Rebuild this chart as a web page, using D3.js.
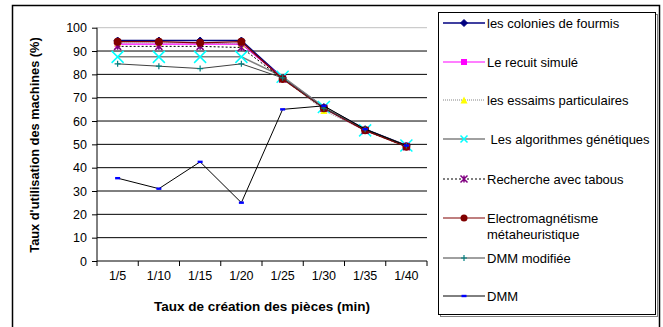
<!DOCTYPE html>
<html>
<head>
<meta charset="utf-8">
<script src="https://cdn.jsdelivr.net/npm/d3@7"></script>
<style>
  html, body { margin: 0; padding: 0; background: #fff; }
  svg { display: block; font-family: Arial, "Liberation Sans", sans-serif; }
</style>
</head>
<body>
<svg id="chart" width="663" height="327"></svg>
<script>
// Category labels (x axis)
const categories = ["1/5", "1/10", "1/15", "1/20", "1/25", "1/30", "1/35", "1/40"];
const yTicks = [0, 10, 20, 30, 40, 50, 60, 70, 80, 90, 100];

// Machine utilisation rate (%) per method
const colonies   = [94.5, 94.5, 94.5, 94.5, 78.5, 66.0, 56.5, 49.5];
const recuit     = [93.0, 93.0, 93.0, 93.0, 78.5, 65.5, 56.0, 49.5];
const essaims    = [93.5, 93.5, 93.5, 93.0, 78.5, 64.5, 56.0, 49.5];
const genetiques = [87.5, 87.5, 87.5, 87.5, 79.0, 66.0, 56.0, 49.5];
const tabous     = [92.0, 92.0, 92.0, 91.5, 78.0, 65.5, 56.0, 49.0];
const electro    = [94.0, 94.0, 93.5, 94.0, 78.0, 65.5, 56.0, 49.0];
const dmmModif   = [84.5, 83.5, 82.5, 84.5, 78.5, 65.5, 56.5, 49.5];
const dmm        = [35.5, 31.0, 42.5, 25.0, 65.0, 66.5, 56.5, 49.5];

const seriesNames = [
  "les colonies de fourmis",
  "Le recuit simulé",
  "les essaims particulaires",
  " Les algorithmes génétiques",
  "Recherche avec tabous",
  "Electromagnétisme\nmétaheuristique",
  "DMM modifiée",
  "DMM"
];

// visual style per series
const styles = [
  { values: colonies,   line: "#000080", width: 1.5, dash: null,  marker: "diamond",  mfill: "#000080", msize: 7 },
  { values: recuit,     line: "#FF00FF", width: 1.2, dash: null,  marker: "square",   mfill: "#FF00FF", msize: 6 },
  { values: essaims,    line: "#666666", width: 0.8, dash: "1,1", marker: "triangle", mfill: "#FFFF00", msize: 7 },
  { values: genetiques, line: "#808080", width: 1.5, dash: null,  marker: "x",        mfill: "#00FFFF", msize: 12 },
  { values: tabous,     line: "#000000", width: 1,   dash: "2,2", marker: "star",     mfill: "#800080", msize: 7 },
  { values: electro,    line: "#800000", width: 1.2, dash: null,  marker: "circle",   mfill: "#800000", msize: 8 },
  { values: dmmModif,   line: "#404040", width: 1,   dash: null,  marker: "plus",     mfill: "#008080", msize: 6 },
  { values: dmm,        line: "#000000", width: 1,   dash: null,  marker: "dash",     mfill: "#0000FF", msize: 5 }
];

const svg = d3.select("#chart");

// outer frame
svg.append("rect")
  .attr("x", 12.5).attr("y", 5.5).attr("width", 647).attr("height", 330)
  .attr("fill", "none").attr("stroke", "#000").attr("stroke-width", 1.5);

const plot = { left: 97, right: 427, top: 27.7, bottom: 261 };

const x = d3.scaleBand().domain(categories).range([plot.left, plot.right]);
const y = d3.scaleLinear().domain([0, 100]).range([plot.bottom, plot.top]);

// horizontal gridlines
svg.append("g").selectAll("line").data(yTicks.filter(d => d > 0)).join("line")
  .attr("x1", plot.left).attr("x2", plot.right)
  .attr("y1", d => y(d)).attr("y2", d => y(d))
  .attr("stroke", d => d === 100 ? "#c0c0c0" : "#000").attr("stroke-width", 1);

// y axis
const yAxis = d3.axisLeft(y).tickValues(yTicks).tickSize(5).tickPadding(5);
const gy = svg.append("g").attr("transform", `translate(${plot.left},0)`).call(yAxis);
gy.select(".domain").attr("stroke", "#000").attr("d", `M0,${plot.top}V${plot.bottom}`);
gy.selectAll(".tick line").attr("stroke", "#000");
gy.selectAll(".tick text").attr("font-size", 12.5).attr("font-family", "Arial, 'Liberation Sans', sans-serif").attr("fill", "#000");

// x axis with ticks at category boundaries
const gx = svg.append("g").attr("transform", `translate(0,${plot.bottom})`);
gx.append("line").attr("x1", plot.left).attr("x2", plot.right).attr("y1", 0).attr("y2", 0).attr("stroke", "#000");
const boundaries = categories.map(c => x(c)).concat([plot.right]);
gx.selectAll(".bt").data(boundaries).join("line")
  .attr("x1", d => d).attr("x2", d => d).attr("y1", 0).attr("y2", 5).attr("stroke", "#000");
gx.selectAll(".lbl").data(categories).join("text")
  .attr("x", d => x(d) + x.bandwidth() / 2).attr("y", 19)
  .attr("text-anchor", "middle").attr("font-size", 12.5).text(d => d);

// axis titles
svg.append("text")
  .attr("x", 262).attr("y", 311).attr("text-anchor", "middle")
  .attr("font-size", 13.5).attr("font-weight", "bold")
  .text("Taux de création des pièces (min)");
svg.append("text")
  .attr("transform", "translate(39,145) rotate(-90)").attr("text-anchor", "middle")
  .attr("font-size", 12.8).attr("font-weight", "bold")
  .text("Taux d'utilisation des machines (%)");

// marker drawing
function drawMarker(g, type, fill, s) {
  const h = s / 2;
  if (type === "diamond") {
    g.append("path").attr("d", `M0,${-h}L${h},0L0,${h}L${-h},0Z`).attr("fill", fill).attr("stroke", fill);
  } else if (type === "square") {
    g.append("rect").attr("x", -h).attr("y", -h).attr("width", s).attr("height", s).attr("fill", fill);
  } else if (type === "triangle") {
    g.append("path").attr("d", `M0,${-h}L${h},${h}L${-h},${h}Z`).attr("fill", fill);
  } else if (type === "x") {
    g.append("path").attr("d", `M${-h},${-h}L${h},${h}M${h},${-h}L${-h},${h}`).attr("stroke", fill).attr("stroke-width", 1.5);
  } else if (type === "star") {
    g.append("path").attr("d", `M${-h},${-h}L${h},${h}M${h},${-h}L${-h},${h}M0,${-h}L0,${h}`).attr("stroke", fill).attr("stroke-width", 1.5);
  } else if (type === "circle") {
    g.append("circle").attr("r", h).attr("fill", fill);
  } else if (type === "plus") {
    g.append("path").attr("d", `M${-h},0L${h},0M0,${-h}L0,${h}`).attr("stroke", fill).attr("stroke-width", 1.2);
  } else if (type === "dash") {
    g.append("rect").attr("x", -h).attr("y", -1.2).attr("width", s).attr("height", 2.4).attr("fill", fill);
  }
}

const line = d3.line()
  .x((d, i) => x(categories[i]) + x.bandwidth() / 2)
  .y(d => y(d));

styles.forEach(st => {
  const g = svg.append("g");
  g.append("path").attr("d", line(st.values))
    .attr("fill", "none").attr("stroke", st.line).attr("stroke-width", st.width)
    .attr("stroke-dasharray", st.dash);
  st.values.forEach((v, i) => {
    const mg = g.append("g").attr("transform", `translate(${x(categories[i]) + x.bandwidth() / 2},${y(v)})`);
    drawMarker(mg, st.marker, st.mfill, st.msize);
  });
});

// legend
const leg = { x: 438, y: 12, w: 217, h: 302 };
svg.append("rect").attr("x", leg.x + 2.5).attr("y", leg.y + 2.5).attr("width", leg.w).attr("height", leg.h)
  .attr("fill", "none").attr("stroke", "#808080").attr("stroke-width", 1);
svg.append("rect").attr("x", leg.x + 0.5).attr("y", leg.y + 0.5).attr("width", leg.w).attr("height", leg.h)
  .attr("fill", "#fff").attr("stroke", "#000").attr("stroke-width", 1);

const legendY = [23, 62, 100, 139, 179, 218, 258, 296];
styles.forEach((st, i) => {
  const ly = legendY[i];
  const g = svg.append("g");
  g.append("line").attr("x1", 443).attr("x2", 485).attr("y1", ly).attr("y2", ly)
    .attr("stroke", st.line).attr("stroke-width", st.width).attr("stroke-dasharray", st.dash);
  const mg = g.append("g").attr("transform", `translate(464,${ly})`);
  drawMarker(mg, st.marker, st.mfill, Math.min(st.msize, 7));
  const lines = seriesNames[i].split("\n");
  const t = g.append("text").attr("x", 487).attr("y", ly + 4.5).attr("font-size", 13).attr("xml:space", "preserve");
  lines.forEach((ln, k) => {
    t.append("tspan").attr("x", 487).attr("dy", k === 0 ? 0 : 16).text(ln.replace(/^ /, "\u00a0"));
  });
});
</script>
</body>
</html>
